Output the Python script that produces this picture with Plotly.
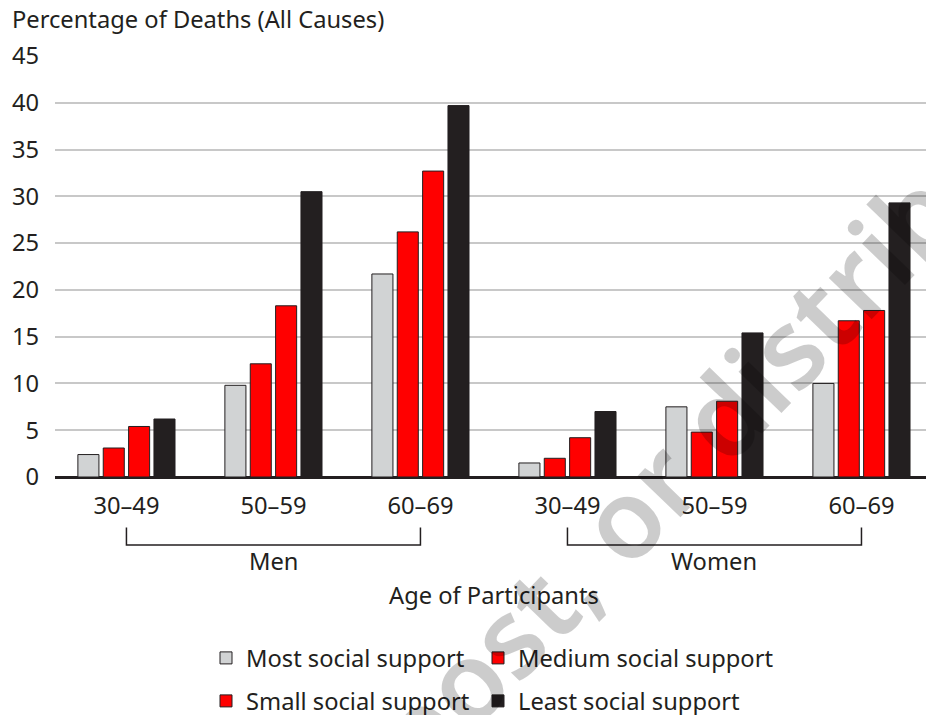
import plotly.graph_objects as go

# ---- data -------------------------------------------------------------
sexes = ["Men", "Women"]
age_bands = ["30–49", "50–59", "60–69"]
tick_labels = age_bands * len(sexes)          # Men 30–49 … Women 60–69
positions = list(range(len(tick_labels)))

series_names = [
    "Most social support",
    "Medium social support",
    "Small social support",
    "Least social support",
]
most_support = [2.4, 9.8, 21.7, 1.5, 7.5, 10.0]
medium_support = [3.1, 12.1, 26.2, 2.0, 4.8, 16.7]
small_support = [5.4, 18.3, 32.7, 4.2, 8.1, 17.8]
least_support = [6.2, 30.5, 39.7, 7.0, 15.4, 29.3]

y_ticks = list(range(0, 46, 5))

# ---- styling ----------------------------------------------------------
INK = "#231f20"
FONT = "Noto Sans"
FS = 23.7
fills = ["#d1d3d4", "#ff0000", "#ff0000", INK]
legend_ids = ["legend", "legend", "legend2", "legend2"]
legend_widths = [227, 290, 227, 290]

fig = go.Figure()
for name, vals, fill, leg, lw in zip(
    series_names,
    [most_support, medium_support, small_support, least_support],
    fills,
    legend_ids,
    legend_widths,
):
    fig.add_trace(
        go.Bar(
            x=positions,
            y=vals,
            name=name,
            legend=leg,
            legendwidth=lw,
            marker=dict(color=fill, line=dict(color=INK, width=1)),
            hoverinfo="skip",
        )
    )

# plot-area geometry (pixels) used to place text outside the axes
W, H = 926, 715
ML, MR, MT, MB = 55, 0, 56, 238
PW, PH = W - ML - MR, H - MT - MB


def px_x(x):
    return (x - ML) / PW


def px_y(y):
    return (H - MB - y) / PH


# brackets grouping the age bands by sex
bracket_top, bracket_bot = px_y(527.5), px_y(545)
shapes = []
for first, last in [(0, 2), (3, 5)]:
    shapes.append(
        dict(
            type="path",
            xref="x",
            yref="paper",
            path=f"M {first},{bracket_top} L {first},{bracket_bot} "
                 f"L {last},{bracket_bot} L {last},{bracket_top}",
            line=dict(color=INK, width=1.5),
        )
    )

annotations = [
    dict(
        text="Percentage of Deaths (All Causes)",
        xref="paper", yref="paper",
        x=px_x(10), y=px_y(19),
        xanchor="left", yanchor="middle",
        showarrow=False,
        font=dict(family=FONT, size=FS, color=INK),
    ),
    dict(
        text="Age of Participants",
        xref="paper", yref="paper",
        x=px_x(494), y=px_y(595),
        xanchor="center", yanchor="middle",
        showarrow=False,
        font=dict(family=FONT, size=FS, color=INK),
    ),
]
for i, sex in enumerate(sexes):
    annotations.append(
        dict(
            text=sex,
            xref="x", yref="paper",
            x=i * len(age_bands) + 1, y=px_y(561),
            xanchor="center", yanchor="middle",
            showarrow=False,
            font=dict(family=FONT, size=FS, color=INK),
        )
    )

# diagonal watermark laid over the chart
annotations.append(
    dict(
        text="Do not copy, post, or distribute",
        xref="paper", yref="paper",
        x=px_x(486), y=px_y(657),
        xanchor="center", yanchor="middle",
        textangle=-46,
        showarrow=False,
        font=dict(family=FONT, size=110, weight=600, color="rgba(0,0,0,0.2)"),
    )
)

legend_common = dict(
    orientation="h",
    xanchor="left",
    yanchor="top",
    x=px_x(206),
    entrywidthmode="pixels",
    bgcolor="rgba(0,0,0,0)",
    font=dict(family=FONT, size=FS, color=INK),
    traceorder="normal",
)

fig.update_layout(
    width=W,
    height=H,
    margin=dict(l=ML, r=MR, t=MT, b=MB, pad=0, autoexpand=False),
    paper_bgcolor="white",
    plot_bgcolor="white",
    font=dict(family=FONT, size=FS, color=INK),
    barmode="group",
    bargap=0.31,
    bargroupgap=0.17,
    xaxis=dict(
        range=[-0.486, 5.439],
        tickmode="array",
        tickvals=positions,
        ticktext=tick_labels,
        showgrid=False,
        zeroline=False,
        showline=False,
        ticks="",
        ticklabelstandoff=12,
        tickfont=dict(family=FONT, size=FS, color=INK),
        fixedrange=True,
    ),
    yaxis=dict(
        range=[0, 45],
        tickmode="array",
        tickvals=y_ticks,
        showgrid=True,
        gridcolor="#c8c8c8",
        gridwidth=1.5,
        zeroline=True,
        zerolinecolor=INK,
        zerolinewidth=3,
        showline=False,
        ticks="",
        ticklabelstandoff=15,
        tickfont=dict(family=FONT, size=FS, color=INK),
        fixedrange=True,
    ),
    legend=dict(legend_common, y=px_y(636)),
    legend2=dict(legend_common, y=px_y(679)),
    shapes=shapes,
    annotations=annotations,
    showlegend=True,
)

fig.write_html("out.html")
